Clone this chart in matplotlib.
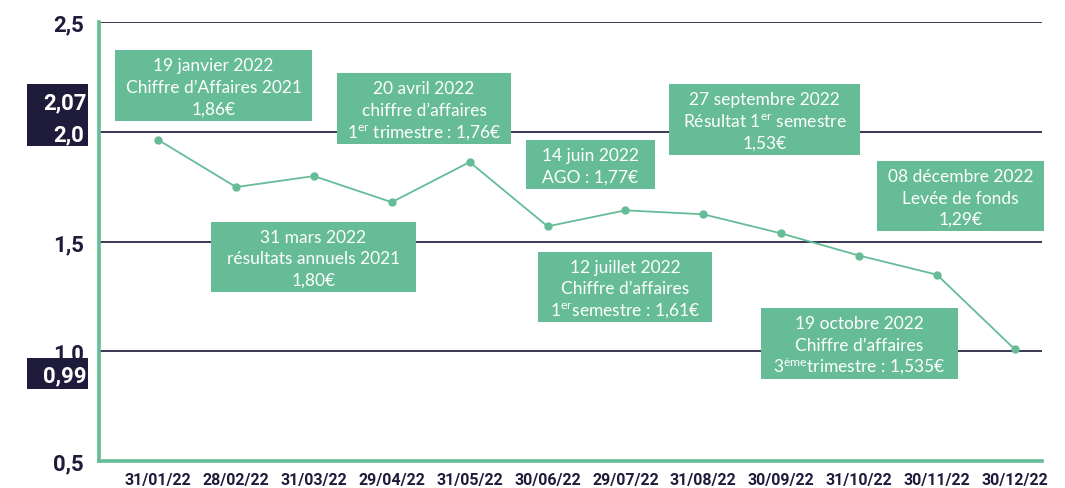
import matplotlib
matplotlib.use("Agg")
import matplotlib.pyplot as plt
from matplotlib.patches import Rectangle

plt.rcParams['font.family'] = ['Lato', 'DejaVu Sans']
plt.rcParams['mathtext.fontset'] = 'custom'
plt.rcParams['mathtext.rm'] = 'Lato'
plt.rcParams['mathtext.it'] = 'Lato:italic'
plt.rcParams['mathtext.bf'] = 'Lato:bold'

# ---- data ----
dates = ["31/01/22", "28/02/22", "31/03/22", "29/04/22", "31/05/22", "30/06/22",
         "29/07/22", "31/08/22", "30/09/22", "31/10/22", "30/11/22", "30/12/22"]
prices = [1.963, 1.748, 1.798, 1.679, 1.862, 1.569, 1.642, 1.624, 1.537, 1.436, 1.349, 1.009]
ytick_vals = [0.5, 1.0, 1.5, 2.0, 2.5]
ytick_labels = ["0,5", "1,0", "1,5", "2,0", "2,5"]
high_label = "2,07"
low_label = "0,99"
events = [
    ["19 janvier 2022", "Chiffre d’Affaires 2021", "1,86€"],
    ["20 avril 2022", "chiffre d’affaires", "1$^{\\mathrm{er}}$ trimestre : 1,76€"],
    ["31 mars 2022", "résultats annuels 2021", "1,80€"],
    ["14 juin 2022", "AGO : 1,77€"],
    ["27 septembre 2022", "Résultat 1$^{\\mathrm{er}}$ semestre", "1,53€"],
    ["12 juillet 2022", "Chiffre d’affaires", "1$^{\\mathrm{er}}$semestre : 1,61€"],
    ["08 décembre 2022", "Levée de fonds", "1,29€"],
    ["19 octobre 2022", "Chiffre d’affaires", "3$^{\\mathrm{ème}}$trimestre : 1,535€"],
]

# ---- layout (pixel boxes: x0, x1, y0_top, y1_top) ----
W, H = 1065, 489
event_boxes = [
    (115, 312, 51, 122),
    (337, 511, 74, 145),
    (211, 416, 223, 293),
    (526, 655, 141, 190),
    (669, 860, 85, 156),
    (538, 712, 253, 323),
    (877, 1044, 162, 232),
    (761, 958, 309, 380),
]
LINE_STEP = 21.5   # px between baselines
BASE_OFF = 6.5     # px from cap centre to baseline
GREEN = "#65bc97"
NAVY = "#1f1c3b"
BOLD_FAMILY = ['Roboto', 'DejaVu Sans']

fig = plt.figure(figsize=(W / 100, H / 100), dpi=100)
fig.patch.set_facecolor("white")
ax = fig.add_axes([99 / W, 1 - 462 / H, (1042 - 99) / W, (462 - 23) / H])
ax.patch.set_visible(False)

x = list(range(len(dates)))
ax.plot(x, prices, color=GREEN, lw=1.3, marker="o", ms=5, zorder=3)
ax.set_xlim(-0.76, 11.35)
ax.set_ylim(0.5, 2.5)

for v in ytick_vals[1:]:
    ax.axhline(v, color="#2b2846", lw=1.3, zorder=1)

ax.set_yticks(ytick_vals)
ax.set_yticklabels(ytick_labels, fontsize=16, fontweight="bold", color=NAVY,
                   family=BOLD_FAMILY)
ax.set_xticks(x)
ax.set_xticklabels(dates, fontsize=11.5, fontweight="bold", color=NAVY,
                   family=BOLD_FAMILY)
ax.tick_params(axis="both", length=0)
ax.tick_params(axis="y", pad=11)
ax.tick_params(axis="x", pad=8)
for lbl in ax.get_yticklabels():
    if lbl.get_text() == "2,0":
        lbl.set_color("white")

for s in ["top", "right"]:
    ax.spines[s].set_visible(False)
for s in ["left", "bottom"]:
    ax.spines[s].set_color(GREEN)
    ax.spines[s].set_linewidth(2.6)
    ax.spines[s].set_zorder(2)


def fx(px):
    return px / W


def fy(py):
    return 1 - py / H


# navy boxes behind tick labels
for (x0, x1, y0, y1) in [(27, 88, 85, 147), (27, 88, 359, 390)]:
    fig.patches.append(Rectangle((fx(x0), fy(y1)), fx(x1) - fx(x0), fy(y0) - fy(y1),
                                 transform=fig.transFigure, facecolor=NAVY,
                                 edgecolor="none", zorder=-1))
fig.text(fx(87), fy(103), high_label, ha="right", va="center", color="white",
         fontsize=16, fontweight="bold", family=BOLD_FAMILY)
fig.text(fx(87), fy(376), low_label, ha="right", va="center", color="white",
         fontsize=16, fontweight="bold", family=BOLD_FAMILY)

# event boxes
for lines, (x0, x1, y0, y1) in zip(events, event_boxes):
    fig.patches.append(Rectangle((fx(x0), fy(y1)), fx(x1) - fx(x0), fy(y0) - fy(y1),
                                 transform=fig.transFigure, facecolor=GREEN,
                                 edgecolor="none", zorder=5))
    cx = (x0 + x1) / 2
    cy = (y0 + y1) / 2
    n = len(lines)
    for i, line in enumerate(lines):
        by = cy + (i - (n - 1) / 2) * LINE_STEP + BASE_OFF
        fig.text(fx(cx), fy(by), line, ha="center", va="baseline", color="white",
                 fontsize=12.5, zorder=6)

fig.savefig("out.png", dpi=100)
